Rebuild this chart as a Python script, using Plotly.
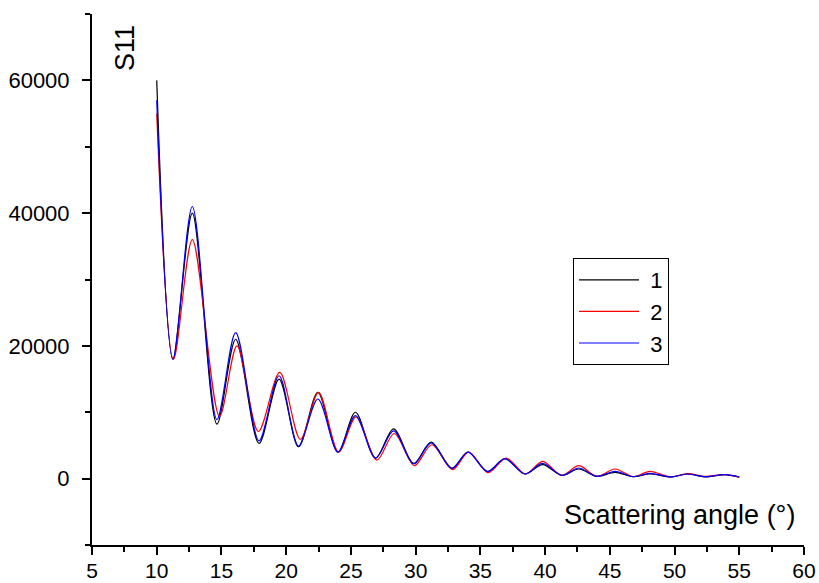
import plotly.graph_objects as go

# Extrema of each curve (angle in degrees, S11)
angle_1 = [10.0, 11.25, 12.75, 14.65, 16.1, 17.9, 19.45, 20.95, 22.45, 24.0, 25.35, 26.9,
           28.3, 29.85, 31.2, 32.8, 34.05, 35.55, 36.9, 38.45, 39.8, 41.3, 42.6, 44.0,
           45.4, 46.8, 48.1, 49.7, 50.95, 52.4, 53.9, 55.0]
s11_1 = [60000, 18000, 40000, 8200, 21000, 5300, 15000, 4800, 13000, 4000, 10000, 3100,
         7500, 2300, 5500, 1600, 4000, 1100, 3000, 700, 2100, 500, 1450, 350,
         950, 300, 700, 250, 700, 250, 600, 250]

angle_2 = [10.0, 11.3, 12.75, 14.85, 16.2, 17.85, 19.5, 21.1, 22.5, 24.05, 25.4, 27.0,
           28.35, 29.9, 31.25, 32.85, 34.1, 35.6, 37.0, 38.5, 39.8, 41.3, 42.6, 44.0,
           45.4, 46.8, 48.1, 49.7, 51.0, 52.4, 53.9, 55.0]
s11_2 = [55000, 18000, 36000, 9400, 20000, 7100, 16000, 5900, 13000, 4000, 9300, 2800,
         6800, 1950, 5100, 1350, 4000, 900, 3100, 700, 2600, 500, 1950, 350,
         1450, 300, 1100, 250, 750, 350, 600, 200]

angle_3 = angle_1
s11_3 = [57000, 18000, 41000, 8900, 22000, 5700, 15500, 4900, 12000, 4000, 9500, 3100,
         7200, 2200, 5400, 1500, 4000, 1050, 3000, 700, 2300, 500, 1600, 350,
         1100, 300, 800, 250, 700, 300, 600, 250]

series_names = [" 1", " 2", " 3"]
series_colors = ["#000000", "#ff0000", "#0000ff"]

x_ticks = [5, 10, 15, 20, 25, 30, 35, 40, 45, 50, 55, 60]
y_ticks = [0, 20000, 40000, 60000]

FONT = "Liberation Sans, Arial, sans-serif"

fig = go.Figure()
for xs, ys, name, col in zip([angle_1, angle_2, angle_3], [s11_1, s11_2, s11_3],
                             series_names, series_colors):
    fig.add_trace(go.Scatter(x=xs, y=ys, mode="lines", name=name,
                             line=dict(color=col, width=1.2, shape="spline", smoothing=0.9)))

fig.update_layout(
    template="none",
    width=819, height=583,
    margin=dict(l=92, r=15, t=14, b=38, autoexpand=False),
    paper_bgcolor="white", plot_bgcolor="white",
    font=dict(family=FONT, size=22, color="black"),
    showlegend=True,
    legend=dict(x=0.6756, y=0.5405, xanchor="left", yanchor="top",
                bordercolor="black", borderwidth=1, bgcolor="white",
                font=dict(size=22), itemwidth=60, tracegroupgap=0),
    xaxis=dict(range=[5, 60], tickvals=x_ticks, showgrid=False, zeroline=False,
               automargin=False,
               showline=True, linecolor="black", linewidth=2,
               ticks="outside", ticklen=8, tickwidth=2, tickcolor="black",
               minor=dict(dtick=2.5, ticks="outside", ticklen=5, tickwidth=2, tickcolor="black",
                          showgrid=False),
               tickfont=dict(size=21), ticklabelstandoff=-2),
    yaxis=dict(range=[-10000, 70000], tickvals=y_ticks, showgrid=False, zeroline=False,
               automargin=False,
               showline=True, linecolor="black", linewidth=2,
               ticks="outside", ticklen=8, tickwidth=2, tickcolor="black",
               minor=dict(dtick=10000, ticks="outside", ticklen=5, tickwidth=2, tickcolor="black",
                          showgrid=False),
               tickfont=dict(size=22), tickformat="d", ticklabelstandoff=8),
    annotations=[
        dict(text="Scattering angle (°)", xref="paper", yref="paper", x=0.99, y=0.0565,
             xanchor="right", yanchor="middle", showarrow=False, font=dict(size=27)),
        dict(text="S11", xref="paper", yref="paper", x=0.0463, y=0.936, textangle=-90,
             xanchor="center", yanchor="middle", showarrow=False, font=dict(size=27)),
    ],
)

fig.write_html("out.html")
